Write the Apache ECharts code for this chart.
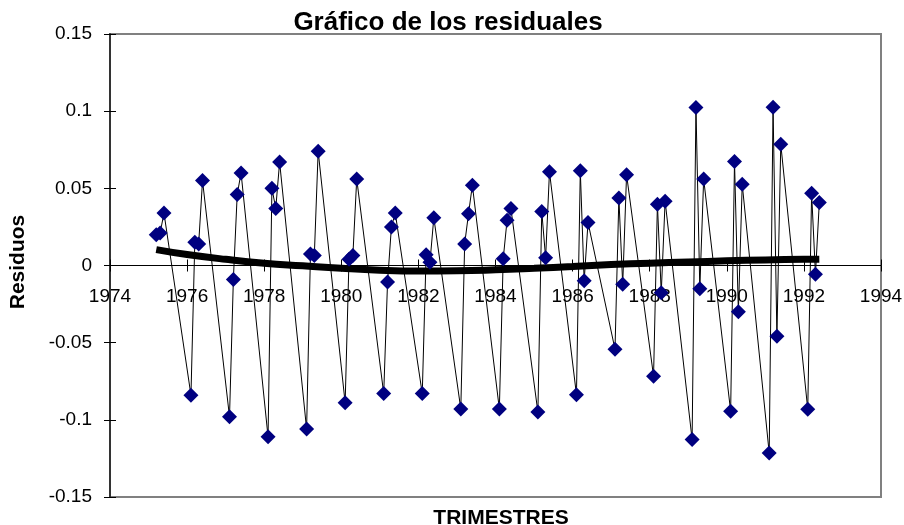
<!DOCTYPE html>
<html>
<head>
<meta charset="utf-8">
<title>Gráfico de los residuales</title>
<script src="https://cdn.jsdelivr.net/npm/echarts@6/dist/echarts.min.js"></script>
<style>
  html, body { margin: 0; padding: 0; background: #fff; }
  #chart { width: 904px; height: 525px; }
</style>
</head>
<body>
<div id="chart"></div>
<script>
// Trimestres codificados como año.trimestre (1975.2 = 2º trimestre de 1975)
const periodos = [
  1975.2, 1975.3, 1975.4,
  1976.1, 1976.2, 1976.3, 1976.4,
  1977.1, 1977.2, 1977.3, 1977.4,
  1978.1, 1978.2, 1978.3, 1978.4,
  1979.1, 1979.2, 1979.3, 1979.4,
  1980.1, 1980.2, 1980.3, 1980.4,
  1981.1, 1981.2, 1981.3, 1981.4,
  1982.1, 1982.2, 1982.3, 1982.4,
  1983.1, 1983.2, 1983.3, 1983.4,
  1984.1, 1984.2, 1984.3, 1984.4,
  1985.1, 1985.2, 1985.3, 1985.4,
  1986.1, 1986.2, 1986.3, 1986.4,
  1987.1, 1987.2, 1987.3, 1987.4,
  1988.1, 1988.2, 1988.3, 1988.4,
  1989.1, 1989.2, 1989.3, 1989.4,
  1990.1, 1990.2, 1990.3, 1990.4,
  1991.1, 1991.2, 1991.3, 1991.4,
  1992.1, 1992.2, 1992.3, 1992.4
];

// Residuos del modelo, uno por trimestre
const residuos = [
  0.020, 0.021, 0.034,
  -0.084, 0.015, 0.014, 0.055,
  -0.098, -0.009, 0.046, 0.060,
  -0.111, 0.050, 0.037, 0.067,
  -0.106, 0.0075, 0.0064, 0.074,
  -0.089, 0.004, 0.0064, 0.056,
  -0.083, -0.0107, 0.025, 0.034,
  -0.083, 0.0069, 0.0021, 0.031,
  -0.093, 0.014, 0.0335, 0.052,
  -0.093, 0.0043, 0.0294, 0.037,
  -0.095, 0.035, 0.005, 0.0607,
  -0.0837, 0.0614, -0.0099, 0.0279,
  -0.0543, 0.0438, -0.0122, 0.0588,
  -0.0717, 0.0397, -0.0176, 0.0417,
  -0.1127, 0.1024, -0.015, 0.056,
  -0.0944, 0.0674, -0.030, 0.0526,
  -0.1215, 0.1026, -0.0459, 0.0786,
  -0.0932, 0.0468, -0.0056, 0.0408
];

// Línea de tendencia de los residuos
const tendenciaX = [1975.2, 1976, 1977, 1978, 1979, 1980, 1981, 1982, 1983, 1984,
                    1985, 1986, 1987, 1988, 1989, 1990, 1991, 1992, 1992.4];
const tendenciaY = [0.0103, 0.0071, 0.0040, 0.0015, -0.0002, -0.0018, -0.0030, -0.0035, -0.0034, -0.0028,
                    -0.0018, -0.0006, 0.0006, 0.0015, 0.0023, 0.0030, 0.0036, 0.0040, 0.0041];

// Marcas de los ejes
const ejeX = { min: 1974, max: 1994, intervalo: 2 };
const ejeY = { min: -0.15, max: 0.15, intervalo: 0.05 };

const FONT = "'Liberation Sans', Arial, sans-serif";

// Área de trazado (px)
const AREA = { left: 110, right: 23, top: 34, bottom: 28 };
const ALTO_AREA = 525 - AREA.top - AREA.bottom;
// Desplazamiento del eje X para que corte al eje Y en el valor 0
const DESPL_CERO = ALTO_AREA * (0 - ejeY.min) / (ejeY.max - ejeY.min);

const chart = echarts.init(document.getElementById('chart'), null, { renderer: 'canvas' });

const xBase = {
  type: 'value',
  min: ejeX.min, max: ejeX.max, interval: ejeX.intervalo,
  splitLine: { show: false }
};
const yBase = {
  type: 'value',
  min: ejeY.min, max: ejeY.max, interval: ejeY.intervalo,
  position: 'left',
  splitLine: { show: false }
};

chart.setOption({
  animation: false,
  backgroundColor: '#fff',
  grid: {
    left: AREA.left, right: AREA.right, top: AREA.top, bottom: AREA.bottom,
    outerBoundsMode: 'none', containLabel: false,
    show: true, borderColor: '#808080', borderWidth: 2, backgroundColor: 'transparent'
  },
  xAxis: [
    // eje en y = 0: marcas hacia abajo y rótulos de los años
    Object.assign({}, xBase, {
      position: 'bottom',
      offset: -DESPL_CERO,
      axisLine: { show: true, onZero: false, lineStyle: { color: '#000', width: 1 } },
      axisTick: { show: true, inside: false, length: 6, lineStyle: { color: '#000', width: 1 } },
      axisLabel: {
        show: true, margin: 22, color: '#000', fontFamily: FONT, fontSize: 19,
        formatter: v => String(v)
      }
    }),
    // mismas marcas hacia arriba (marcas cruzadas)
    Object.assign({}, xBase, {
      position: 'top',
      offset: -(ALTO_AREA - DESPL_CERO),
      axisLine: { show: false, onZero: false },
      axisTick: { show: true, inside: false, length: 6, lineStyle: { color: '#000', width: 1 } },
      axisLabel: { show: false }
    })
  ],
  yAxis: [
    Object.assign({}, yBase, {
      axisLine: { show: true, onZero: false, lineStyle: { color: '#333', width: 2 } },
      axisTick: { show: true, inside: false, length: 6, lineStyle: { color: '#000', width: 1 } },
      axisLabel: {
        show: true, margin: 18, color: '#000', fontFamily: FONT, fontSize: 19,
        formatter: v => String(+v.toFixed(2))
      }
    }),
    Object.assign({}, yBase, {
      axisLine: { show: false, onZero: false },
      axisTick: { show: true, inside: true, length: 6, lineStyle: { color: '#000', width: 1 } },
      axisLabel: { show: false }
    })
  ],
  series: [
    {
      name: 'Tendencia',
      type: 'line',
      xAxisIndex: 0, yAxisIndex: 0,
      data: tendenciaX.map((x, i) => [x, tendenciaY[i]]),
      smooth: true,
      symbol: 'none',
      lineStyle: { color: '#000', width: 7, cap: 'butt' },
      silent: true
    },
    {
      name: 'Residuos',
      type: 'line',
      xAxisIndex: 0, yAxisIndex: 0,
      data: periodos.map((x, i) => [x, residuos[i]]),
      symbol: 'diamond',
      symbolSize: 15,
      showSymbol: true,
      itemStyle: { color: '#000080', borderWidth: 0 },
      lineStyle: { color: '#000', width: 1 },
      silent: true
    }
  ],
  graphic: [
    {
      type: 'text', x: 448, y: 22.5,
      style: {
        text: 'Gráfico de los residuales', fill: '#000',
        font: "bold 26px 'Liberation Sans', Arial, sans-serif",
        align: 'center', verticalAlign: 'middle'
      }
    },
    {
      type: 'text', x: 18, y: 262, rotation: Math.PI / 2,
      style: {
        text: 'Residuos', fill: '#000',
        font: "bold 21px 'Liberation Sans', Arial, sans-serif",
        align: 'center', verticalAlign: 'middle'
      }
    },
    {
      type: 'text', x: 501, y: 518,
      style: {
        text: 'TRIMESTRES', fill: '#000',
        font: "bold 21px 'Liberation Sans', Arial, sans-serif",
        align: 'center', verticalAlign: 'middle'
      }
    }
  ]
});
</script>
</body>
</html>
